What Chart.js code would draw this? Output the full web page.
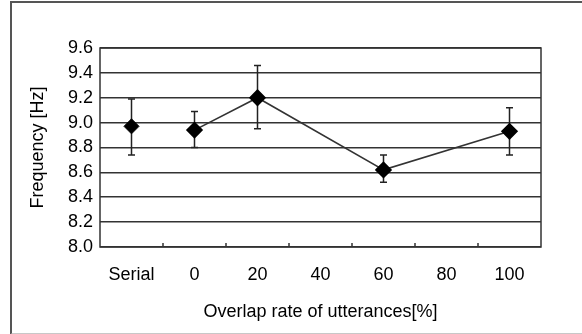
<!DOCTYPE html>
<html>
<head>
<meta charset="utf-8">
<script src="https://cdn.jsdelivr.net/npm/chart.js@4"></script>
<style>
  html, body { margin: 0; padding: 0; background: #fff; }
  #wrap { position: relative; width: 582px; height: 334px; }
  #frame { position: absolute; left: 10px; top: 1px; width: 580px; height: 330px;
           border-top: 2px solid #555; border-left: 2px solid #555; border-bottom: 2px solid #c8c8c8;
           pointer-events: none; }
</style>
</head>
<body>
<div id="wrap">
  <canvas id="freqChart" width="582" height="334"></canvas>
  <div id="frame"></div>
</div>
<script>
// categories on the x axis
var categories = ['Serial', '0', '20', '40', '60', '80', '100']
// mean frequency [Hz]
var serialMean  = [8.97, null, null, null, null, null, null]
var overlapMean = [null, 8.94, 9.20, null, 8.62, null, 8.93]
// error bar ends
var errUpper = [9.19, 9.09, 9.46, null, 8.74, null, 9.12]
var errLower = [8.74, 8.80, 8.95, null, 8.52, null, 8.74]
// y tick range
var yMin = 8.0, yMax = 9.6, yStep = 0.2

var fontFamily = '"Liberation Sans", Arial, sans-serif'

var errorBars = {
    id: 'errorBars',
    beforeDatasetsDraw: function(chart) {
        var ctx = chart.ctx
        var xs = chart.scales.x, ys = chart.scales.y
        ctx.save()
        ctx.strokeStyle = '#222'
        ctx.lineWidth = 1.5
        for (let i in categories) {
            if (errUpper[i] == null) continue
            var x = xs.getPixelForValue(Number(i))
            var yt = ys.getPixelForValue(errUpper[i])
            var yb = ys.getPixelForValue(errLower[i])
            ctx.beginPath()
            ctx.moveTo(x, yt); ctx.lineTo(x, yb)
            ctx.moveTo(x - 3.5, yt); ctx.lineTo(x + 3.5, yt)
            ctx.moveTo(x - 3.5, yb); ctx.lineTo(x + 3.5, yb)
            ctx.stroke()
        }
        ctx.restore()
    },
    afterDraw: function(chart) {
        var ctx = chart.ctx
        var a = chart.chartArea
        var xs = chart.scales.x
        ctx.save()
        ctx.strokeStyle = '#333'
        ctx.lineWidth = 1.5
        ctx.strokeRect(a.left, a.top, a.right - a.left, a.bottom - a.top)
        // small inward ticks between categories
        ctx.beginPath()
        for (let i = 1; i < categories.length; i++) {
            var x = (xs.getPixelForValue(i - 1) + xs.getPixelForValue(i)) / 2
            ctx.moveTo(x, a.bottom); ctx.lineTo(x, a.bottom - 4)
        }
        ctx.stroke()
        ctx.restore()
    }
}

const freqData = {
    labels: categories,
    datasets: [{
        label: 'Serial',
        data: serialMean,
        showLine: false,
        pointStyle: 'rectRot',
        pointRadius: 7.5,
        pointBackgroundColor: '#000',
        pointBorderColor: '#000'
    }, {
        label: 'Overlap',
        data: overlapMean,
        spanGaps: true,
        borderColor: '#333',
        borderWidth: 1.6,
        pointStyle: 'rectRot',
        pointRadius: 7.5,
        pointBackgroundColor: '#000',
        pointBorderColor: '#000'
    }]
}

const freqConfig = {
    type: 'line',
    data: freqData,
    plugins: [errorBars],
    options: {
        responsive: false,
        animation: false,
        layout: { padding: { left: 27, right: 41, top: 48, bottom: 10 } },
        plugins: { legend: { display: false }, tooltip: { enabled: false } },
        scales: {
            x: {
                offset: true,
                grid: { display: false, drawTicks: false },
                border: { display: false },
                ticks: { color: '#000', padding: 17, font: { family: fontFamily, size: 18 } },
                title: { display: true, text: 'Overlap rate of utterances[%]', color: '#000',
                         padding: { top: 0, bottom: 1 }, font: { family: fontFamily, size: 18 } },
                afterFit: function(scale) { scale.height = 77 }
            },
            y: {
                min: yMin,
                max: yMax,
                grid: { color: '#333', lineWidth: 1.5, drawTicks: false },
                border: { display: false },
                ticks: {
                    stepSize: yStep, padding: 7, color: '#000',
                    font: { family: fontFamily, size: 18 },
                    callback: function(v) { return v.toFixed(1) }
                },
                title: { display: true, text: 'Frequency [Hz]', color: '#000',
                         padding: { top: 0, bottom: 0 }, font: { family: fontFamily, size: 18 } },
                afterFit: function(scale) { scale.width = 73 }
            }
        }
    }
}

const freqChart = new Chart(document.getElementById('freqChart'), freqConfig)
</script>
</body>
</html>
